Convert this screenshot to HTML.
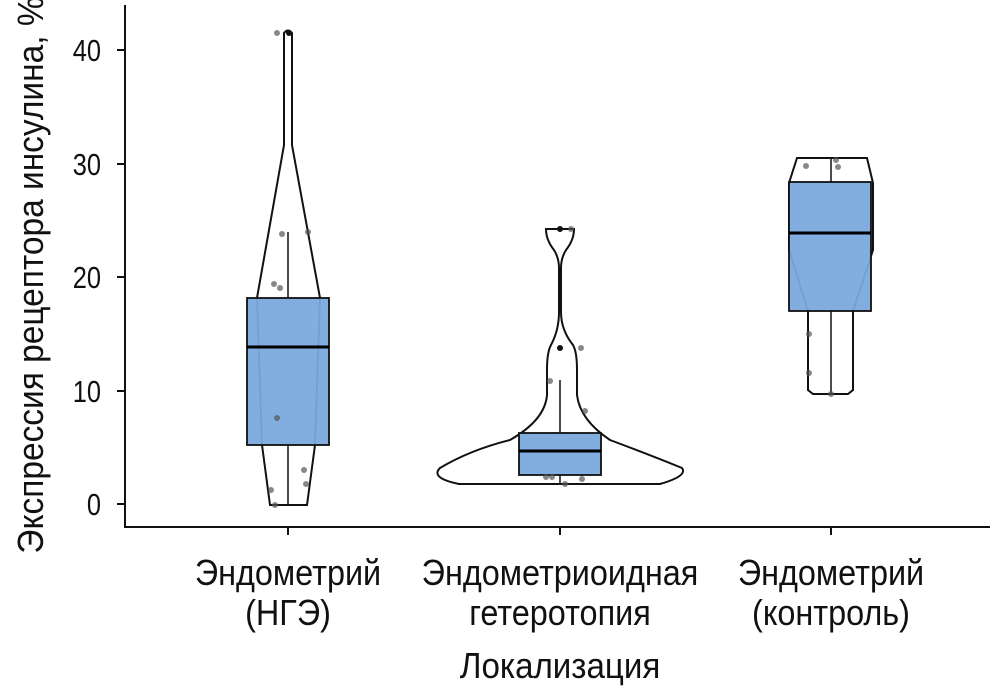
<!DOCTYPE html>
<html><head><meta charset="utf-8"><style>
html,body{margin:0;padding:0;background:#fff;}
svg{display:block;}
text{font-family:"Liberation Sans",sans-serif;fill:#111;}
</style></head><body>
<svg width="992" height="697" viewBox="0 0 992 697" xmlns="http://www.w3.org/2000/svg">
<g fill="none" stroke="#111" stroke-width="2">
<path d="M284,33 Q288,28 292,33 L292,145 L320,298 L315,445 L307,505 L270,505 L262,445 L257,298 L284,145 Z" fill="#fff"/>
<path d="M546,229 L574,229 Q574,240 566,250 Q561,258 561,268 L561,312 Q561,330 573,345 Q577,352 577,370 L577,395 Q580,420 610,440 Q650,455 682,468 Q688,476 660,484 L459,484 Q430,478 440,468 Q470,450 510,440 Q545,420 547,395 L547,370 Q547,352 551,345 Q559,330 559,312 L559,268 Q559,258 554,250 Q546,240 546,229 Z" fill="#fff"/>
<path d="M797,158 L867,158 L873,183 L873,250 L853,311 L853,390 L848,394 L813,394 L808,390 L808,311 L789,250 L789,183 Z" fill="#fff"/>
</g>
<g stroke="#111" stroke-width="1.5">
<line x1="288" y1="232" x2="288" y2="298"/><line x1="288" y1="445" x2="288" y2="505"/>
<line x1="560" y1="380" x2="560" y2="433"/><line x1="560" y1="475" x2="560" y2="484"/>
<line x1="831" y1="158" x2="831" y2="182"/><line x1="831" y1="311" x2="831" y2="394"/>
</g>
<g fill="#7aaadc" fill-opacity="0.95" stroke="#111" stroke-width="1.8">
<rect x="247" y="298" width="82" height="147"/>
<rect x="519" y="433" width="82" height="42"/>
<rect x="789" y="182" width="82" height="129"/>
</g>
<g stroke="#000" stroke-width="3">
<line x1="247" y1="347" x2="329" y2="347"/>
<line x1="519" y1="451" x2="601" y2="451"/>
<line x1="789" y1="233" x2="871" y2="233"/>
</g>
<g fill="#555" fill-opacity="0.7">
<circle cx="277" cy="33" r="3"/><circle cx="289" cy="33" r="3" fill="#111" fill-opacity="1"/>
<circle cx="282" cy="234" r="3"/><circle cx="308" cy="232" r="3"/><circle cx="274" cy="284" r="3"/><circle cx="280" cy="288" r="3"/>
<circle cx="277" cy="418" r="3"/><circle cx="304" cy="470" r="3"/><circle cx="306" cy="484" r="3"/><circle cx="271" cy="490" r="3"/><circle cx="275" cy="505" r="3"/>
<circle cx="560" cy="229" r="3" fill="#111" fill-opacity="1"/><circle cx="571" cy="229" r="3"/>
<circle cx="560" cy="348" r="3" fill="#111" fill-opacity="1"/><circle cx="581" cy="348" r="3"/><circle cx="550" cy="381" r="3"/><circle cx="585" cy="411" r="3"/>
<circle cx="546" cy="477" r="3"/><circle cx="552" cy="477" r="3"/><circle cx="582" cy="479" r="3"/><circle cx="565" cy="484" r="3"/>
<circle cx="806" cy="166" r="3"/><circle cx="836" cy="160" r="3"/><circle cx="838" cy="167" r="3"/>
<circle cx="809" cy="334" r="3"/><circle cx="809" cy="373" r="3"/><circle cx="831" cy="394" r="3"/>
</g>
<g stroke="#111" stroke-width="2">
<line x1="125" y1="5" x2="125" y2="528"/><line x1="124" y1="527" x2="990" y2="527"/>
<line x1="117" y1="504" x2="125" y2="504"/><line x1="117" y1="391" x2="125" y2="391"/>
<line x1="117" y1="277" x2="125" y2="277"/><line x1="117" y1="164" x2="125" y2="164"/>
<line x1="117" y1="50" x2="125" y2="50"/>
<line x1="288" y1="527" x2="288" y2="535"/><line x1="560" y1="527" x2="560" y2="535"/><line x1="831" y1="527" x2="831" y2="535"/>
</g>
<g font-size="31" text-anchor="end">
<text transform="translate(101 515) scale(0.82 1)">0</text>
<text transform="translate(101 402) scale(0.82 1)">10</text>
<text transform="translate(101 288) scale(0.82 1)">20</text>
<text transform="translate(101 175) scale(0.82 1)">30</text>
<text transform="translate(101 61) scale(0.82 1)">40</text>
</g>
<text font-size="36" text-anchor="middle" transform="translate(43 275) rotate(-90) scale(0.93 1)">Экспрессия рецептора инсулина, %</text>
<g font-size="36" text-anchor="middle">
<text transform="translate(288 585) scale(0.9 1)">Эндометрий</text>
<text transform="translate(288 625) scale(0.9 1)">(НГЭ)</text>
<text transform="translate(560 585) scale(0.9 1)">Эндометриоидная</text>
<text transform="translate(560 625) scale(0.9 1)">гетеротопия</text>
<text transform="translate(831 585) scale(0.9 1)">Эндометрий</text>
<text transform="translate(831 625) scale(0.9 1)">(контроль)</text>
<text transform="translate(560 678) scale(0.92 1)">Локализация</text>
</g>
</svg>
</body></html>
